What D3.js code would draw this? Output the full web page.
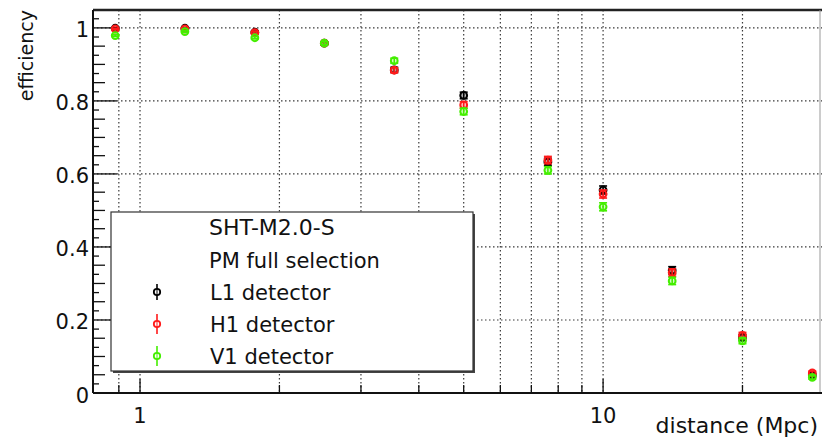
<!DOCTYPE html>
<html><head><meta charset="utf-8">
<script src="https://cdn.jsdelivr.net/npm/d3@7"></script>
<style>
body{margin:0;background:#fff;}
svg{display:block;}
text{font-family:"DejaVu Sans",sans-serif;fill:#111;}
</style></head>
<body>
<svg id="c" width="822" height="439"></svg>
<script>
// ---- data ----
const distances = [0.884, 1.25, 1.77, 2.5, 3.54, 5.0, 7.6, 10, 14.1, 20, 28.3];
const effL1 = [0.999, 0.999, 0.988, 0.958, 0.885, 0.815, 0.633, 0.556, 0.336, 0.152, 0.049];
const effH1 = [0.997, 0.997, 0.987, 0.958, 0.884, 0.789, 0.638, 0.545, 0.330, 0.158, 0.055];
const effV1 = [0.979, 0.990, 0.973, 0.958, 0.910, 0.771, 0.610, 0.510, 0.307, 0.143, 0.043];
const errors = [0.002, 0.002, 0.003, 0.004, 0.007, 0.009, 0.010, 0.011, 0.010, 0.008, 0.005];
const seriesNames = ["L1 detector", "H1 detector", "V1 detector"];
const seriesColors = ["#000000", "#ff1a1a", "#44ee00"];
const legendTitles = ["SHT-M2.0-S", "PM full selection"];
const xMajorTicks = [1, 10];
const xMinorTicks = [0.9, 2, 3, 4, 5, 6, 7, 8, 9, 20];
const yMajorTicks = [0, 0.2, 0.4, 0.6, 0.8, 1];
const xLabel = "distance (Mpc)";
const yLabel = "efficiency";

const svg = d3.select("#c");
const L = 93, R = 822, T = 10, B = 393;
const x = d3.scaleLog().domain([0.7915, 29.7]).range([L, R]);
const y = d3.scaleLinear().domain([0, 1.049]).range([B, T]);

// grid
const grid = svg.append("g");
xMajorTicks.concat(xMinorTicks).forEach(t => {
  grid.append("line").attr("x1", x(t)).attr("x2", x(t)).attr("y1", T).attr("y2", B)
    .attr("stroke", "#3a3a3a").attr("stroke-width", 1.2).attr("stroke-dasharray", "1.5 2.5");
});
yMajorTicks.filter(t => t > 0).forEach(t => {
  grid.append("line").attr("x1", L).attr("x2", R).attr("y1", y(t)).attr("y2", y(t))
    .attr("stroke", "#3a3a3a").attr("stroke-width", 1.2).attr("stroke-dasharray", "1.5 2.5");
});

// frame
svg.append("line").attr("x1", L).attr("x2", R).attr("y1", T).attr("y2", T).attr("stroke", "#222").attr("stroke-width", 2.5);
svg.append("line").attr("x1", R - 2).attr("x2", R - 2).attr("y1", T).attr("y2", B).attr("stroke", "#999").attr("stroke-width", 1);

// y axis
const ya = svg.append("g");
ya.append("line").attr("x1", L).attr("x2", L).attr("y1", T).attr("y2", B).attr("stroke", "#111").attr("stroke-width", 2);
const yTer = d3.range(0, 42).map(i => i * 0.025);
yTer.forEach((t, i) => {
  const len = (i % 8 === 0) ? 24 : (i % 2 === 0 ? 12 : 6);
  ya.append("line").attr("x1", L).attr("x2", L + len).attr("y1", y(t)).attr("y2", y(t))
    .attr("stroke", "#111").attr("stroke-width", 1.3);
});
yMajorTicks.forEach(t => {
  ya.append("text").attr("x", 89).attr("y", y(t) + 9.5).attr("text-anchor", "end")
    .attr("font-size", 21).text(d3.format("~g")(t));
});

// x axis
const xa = svg.append("g");
xa.append("line").attr("x1", L).attr("x2", R).attr("y1", B).attr("y2", B).attr("stroke", "#111").attr("stroke-width", 2);
xMajorTicks.forEach(t => {
  xa.append("line").attr("x1", x(t)).attr("x2", x(t)).attr("y1", B).attr("y2", B - 14).attr("stroke", "#111").attr("stroke-width", 1.3);
  xa.append("text").attr("x", x(t)).attr("y", 423).attr("text-anchor", "middle").attr("font-size", 21).text(t);
});
xMinorTicks.forEach(t => {
  xa.append("line").attr("x1", x(t)).attr("x2", x(t)).attr("y1", B).attr("y2", B - 8).attr("stroke", "#111").attr("stroke-width", 1.3);
});

// axis titles
svg.append("text").attr("x", 818).attr("y", 433).attr("text-anchor", "end").attr("font-size", 22).text(xLabel);
svg.append("text").attr("transform", "translate(33,10) rotate(-90)").attr("text-anchor", "end").attr("font-size", 19).text(yLabel);

// legend
const lg = svg.append("g");
lg.append("rect").attr("x", 113).attr("y", 214).attr("width", 362).attr("height", 159).attr("fill", "#444");
lg.append("rect").attr("x", 111).attr("y", 212).attr("width", 362).attr("height", 159).attr("fill", "#fff").attr("stroke", "#333").attr("stroke-width", 1.2);
legendTitles.forEach((t, i) => {
  lg.append("text").attr("x", 209).attr("y", 235 + i * 33).attr("font-size", i === 0 ? 22 : 21).text(t);
});

function drawMarker(g, cx, cy, e1, e2, color) {
  g.append("line").attr("x1", cx).attr("x2", cx).attr("y1", e1).attr("y2", e2).attr("stroke", color).attr("stroke-width", 1.6);
  g.append("circle").attr("cx", cx).attr("cy", cy).attr("r", 3.2).attr("fill", "#fff").attr("fill-opacity", 0.4)
    .attr("stroke", color).attr("stroke-width", 1.8);
}
seriesNames.forEach((n, i) => {
  const cy = 292 + i * 32;
  drawMarker(lg, 157, cy, cy - (i === 0 ? 8 : 10), cy + (i === 0 ? 8 : 10), seriesColors[i]);
  lg.append("text").attr("x", 210).attr("y", cy + 8).attr("font-size", 21).text(n);
});

// data
const allSeries = [effL1, effH1, effV1];
allSeries.forEach((vals, s) => {
  const g = svg.append("g");
  const col = seriesColors[s];
  vals.forEach((v, i) => {
    const cx = x(distances[i]);
    const top = y(Math.min(v + errors[i], 1.0)), bot = y(v - errors[i]);
    g.append("line").attr("x1", cx).attr("x2", cx).attr("y1", top).attr("y2", bot).attr("stroke", col).attr("stroke-width", 1.6);
    [top, bot].forEach(yy => g.append("line").attr("x1", cx - 4).attr("x2", cx + 4).attr("y1", yy).attr("y2", yy).attr("stroke", col).attr("stroke-width", 1.6));
    g.append("circle").attr("cx", cx).attr("cy", y(v)).attr("r", 3.4).attr("fill", col).attr("fill-opacity", 0.25)
      .attr("stroke", col).attr("stroke-width", 2);
  });
});
</script>
</body></html>
